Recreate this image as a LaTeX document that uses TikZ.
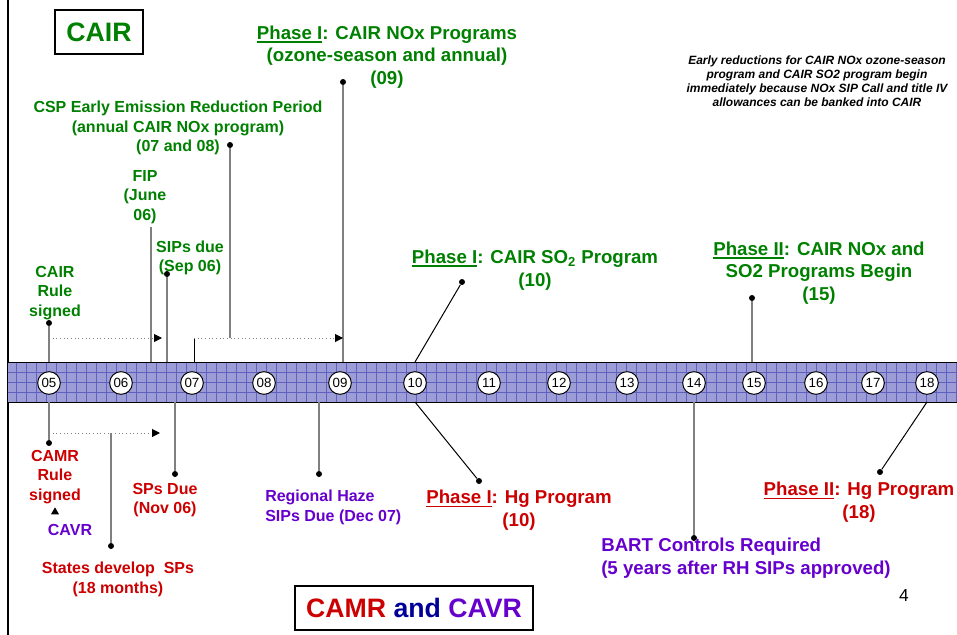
\documentclass[tikz,border=0pt]{standalone}
\usepackage{fontspec}
\setmainfont{Liberation Sans}
\usetikzlibrary{calc}
\usetikzlibrary{arrows.meta}
\usetikzlibrary{shapes.geometric}
\definecolor{cairgreen}{RGB}{0,128,0}
\definecolor{camrred}{RGB}{204,0,0}
\definecolor{cavrpurple}{RGB}{102,0,204}
\definecolor{anddarkblue}{RGB}{0,0,153}
\definecolor{bandfill}{RGB}{156,156,214}
\definecolor{bandgrid}{RGB}{96,96,192}
\tikzstyle{stem}=[draw=gray, line width=1.5pt]
\tikzstyle{slant}=[draw=black, line width=0.75pt]
\tikzstyle{period}=[draw=gray, dotted, line width=0.75pt, -{Triangle[length=6pt,width=6pt,color=black]}]
\tikzstyle{pin}=[circle, fill=black, inner sep=0pt, minimum size=4.5pt]
\tikzstyle{yearbubble}=[circle, draw=black, fill=white, line width=0.75pt, minimum size=17pt, inner sep=0pt, font=\fontsize{10}{11}\selectfont]
\tikzstyle{lbl}=[font=\fontsize{12}{14.6}\selectfont\bfseries, align=center, inner sep=0pt]
\tikzstyle{biglbl}=[font=\fontsize{14}{17}\selectfont\bfseries, align=center, inner sep=0pt]
\tikzstyle{titlebox}=[draw=black, line width=1.5pt, minimum height=33pt, inner sep=0pt, font=\fontsize{20}{24}\selectfont\bfseries]
\newcommand{\pinat}[2]{% name, position
  \node[pin] (#1) at (#2) {};
}
\newcommand{\phase}[1]{% thick underline, as on the slide
  \setbox0\hbox{Phase #1}\rlap{\rule[-2.6pt]{\wd0}{1.3pt}}\box0}

\begin{document}
\begin{tikzpicture}[x=0.75pt,y=-0.75pt]
\useasboundingbox (0,0) rectangle (957,635);
% left frame edge
\draw[line width=1.5pt] (8,0) -- (8,635);
% timeline band
\fill[bandfill] (8,362) rectangle (957,402);
\foreach \gx in {16,26,...,956} {
  \draw[bandgrid, line width=0.45pt] (\gx,362) -- (\gx,402);
}
\foreach \gy in {372,382,392} {
  \draw[bandgrid, line width=0.45pt] (8,\gy) -- (957,\gy);
}
\draw[line width=0.75pt] (8,362) -- (957,362) (8,402) -- (957,402);
\coordinate (bandtop) at (0,362);
\coordinate (bandbot) at (0,402);
\coordinate (cairrow) at (0,338);
\coordinate (camrrow) at (0,433);
% year bubbles
\foreach \yr/\xx in {05/49,06/121,07/192,08/264,09/340,10/415,11/489,12/559,13/627,14/694,15/754,16/816,17/873,18/927} {
  \node[yearbubble] (y\yr) at (\xx,383) {\yr};
}

% title boxes
\node[titlebox, minimum width=66pt, text=cairgreen] (cairtitle) at (99,32) {CAIR};
\node[titlebox, minimum width=178pt] (camrtitle) at (414,607.5) {\textcolor{camrred}{CAMR} \textcolor{anddarkblue}{and} \textcolor{cavrpurple}{CAVR}};
\node[font=\fontsize{13}{15}\selectfont, inner sep=0pt] (pagenum) at (904,596) {4};

% CAIR labels (above)
\node[biglbl, text=cairgreen] (phasenox) at (387,57) {\phase{I}: CAIR NOx Programs\\(ozone-season and annual)\\(09)};
\node[font=\fontsize{9}{10.5}\selectfont\bfseries\itshape, align=center, inner sep=0pt] (earlynote) at (817,81) {Early reductions for CAIR NOx ozone-season\\program and CAIR SO2 program begin\\immediately because NOx SIP Call and title IV\\allowances can be banked into CAIR};
\node[lbl, text=cairgreen] (csp) at (178,128) {CSP Early Emission Reduction Period\\(annual CAIR NOx program)\\(07 and 08)};
\node[lbl, text=cairgreen] (fip) at (145,197) {FIP\\(June\\06)};
\node[lbl, text=cairgreen] (sipsdue) at (190,258) {SIPs due\\(Sep 06)};
\node[lbl, text=cairgreen] (cairrule) at (55,293) {CAIR\\Rule\\signed};
\node[biglbl, text=cairgreen] (phaseso2) at (535,270) {\phase{I}: CAIR SO\textsubscript{2} Program\\(10)};
\node[biglbl, text=cairgreen] (phasetwo) at (819,273) {\phase{II}: CAIR NOx and\\SO2 Programs Begin\\(15)};

% CAMR / CAVR labels (below)
\node[lbl, text=camrred] (camrrule) at (55,477) {CAMR\\Rule\\signed};
\node[regular polygon, regular polygon sides=3, fill=black, inner sep=0pt, minimum size=7pt] (cavrmark) at (55,512) {};
\node[lbl, text=cavrpurple] (cavr) at (70,530) {CAVR};
\node[lbl, text=camrred] (statesdev) at (118,579.5) {States develop~ SPs\\(18 months)};
\node[lbl, text=camrred] (spsdue) at (165,500) {SPs Due\\(Nov 06)};
\node[lbl, text=cavrpurple, align=left, anchor=west] (haze) at (265,507.5) {Regional Haze\\SIPs Due (Dec 07)};
\node[biglbl, text=camrred] (phasehgone) at (519,510.5) {\phase{I}: Hg Program\\(10)};
\node[biglbl, text=cavrpurple, align=left, anchor=west] (bart) at (601,558.5) {BART Controls Required\\(5 years after RH SIPs approved)};
\node[biglbl, text=camrred] (phasehgtwo) at (859,502.5) {\phase{II}: Hg Program\\(18)};

% pins
\pinat{dphasenox}{343,82}
\pinat{dcsp}{230,145}
\pinat{dsipsdue}{167,274}
\pinat{dcairrule}{49,323}
\pinat{dso2}{462,282}
\pinat{dphasetwo}{752,298}
\pinat{dcamrrule}{49,443}
\pinat{dstates}{111,546}
\pinat{dspsdue}{175,474}
\pinat{dhaze}{319,474}
\pinat{dhgone}{479,481}
\pinat{dbart}{694,538}
\pinat{dhgtwo}{880,472}
\coordinate (fiptop) at (151,227);
\coordinate (cairend) at (162,338);
\coordinate (cspcorner) at (194,338);
\coordinate (camrend) at (160,433);

% stems above the band
\draw[stem] (dcairrule) -- (dcairrule |- bandtop);
\draw[stem] (fiptop) -- (fiptop |- bandtop);
\draw[stem] (dsipsdue) -- (dsipsdue |- bandtop);
\draw[stem, line width=1pt] (dcsp) -- (dcsp |- cairrow);
\draw[stem] (dphasenox) -- (dphasenox |- bandtop);
\draw[stem] (dphasetwo) -- (dphasetwo |- bandtop);
\draw[slant] (dso2) -- (y10 |- bandtop);
\draw[slant] (cspcorner |- bandtop) -- (cspcorner);
\draw[period] (dcairrule |- cairrow) -- (cairend);
\draw[period] (cspcorner) -- (dphasenox |- cairrow);

% stems below the band
\draw[stem] (y05 |- bandbot) -- (dcamrrule);
\draw[period] (dcamrrule |- camrrow) -- (camrend);
\draw[stem] (dstates |- camrrow) -- (dstates);
\draw[stem] (dspsdue |- bandbot) -- (dspsdue);
\draw[stem] (dhaze |- bandbot) -- (dhaze);
\draw[slant] (y10 |- bandbot) -- (dhgone);
\draw[stem] (y14 |- bandbot) -- (dbart);
\draw[slant] (y18 |- bandbot) -- (dhgtwo);
\end{tikzpicture}
\end{document}
